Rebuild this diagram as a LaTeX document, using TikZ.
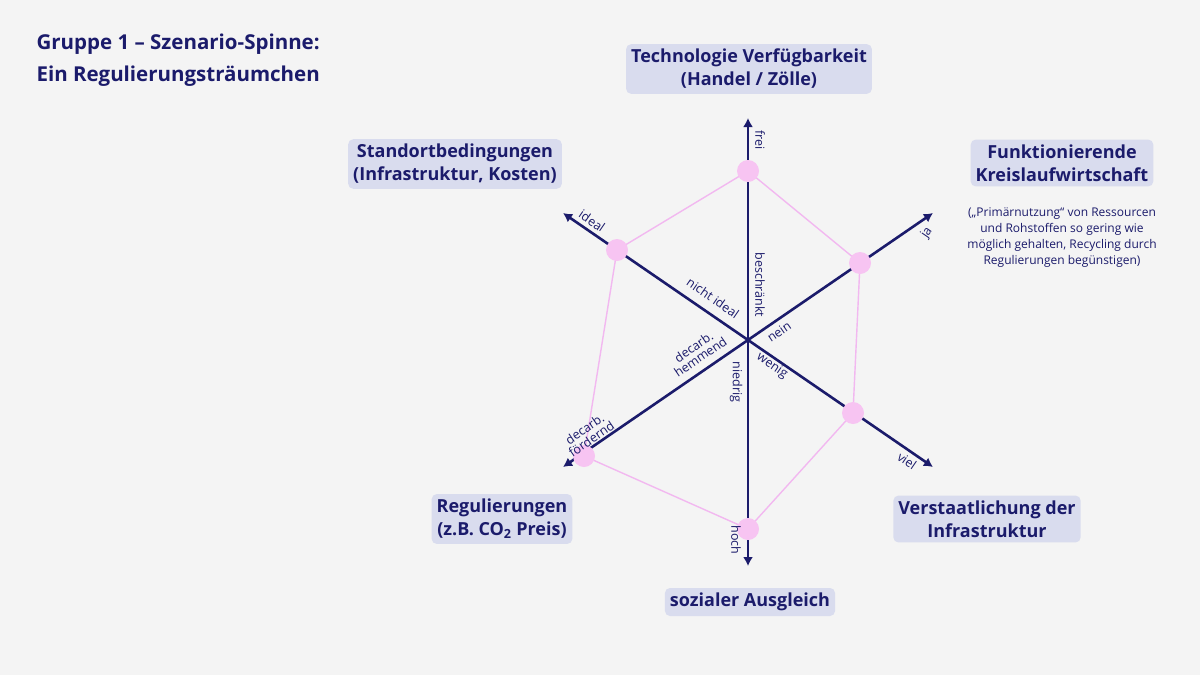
\documentclass[tikz,border=0pt]{standalone}
\usepackage{fontspec}
\setmainfont{Open Sans}
\usetikzlibrary{arrows.meta}
\definecolor{navy}{HTML}{1B1B6B}
\definecolor{boxbg}{HTML}{D9DCEE}
\definecolor{pinkl}{HTML}{F2B8F0}
\definecolor{dotc}{HTML}{F7C4F2}
\definecolor{pagebg}{HTML}{F4F4F4}
\begin{document}
\begin{tikzpicture}[x=1pt,y=-1pt,
  box/.style={fill=boxbg,rounded corners=5pt,text=navy,font=\fontsize{18}{23}\selectfont\bfseries,align=center,inner sep=5pt},
  axis/.style={navy,line width=2.6pt,-{Latex[length=9pt,width=10pt]}},
  lbl/.style={text=navy,font=\fontsize{12.5}{13}\selectfont,inner sep=1pt,align=center},
  web/.style={pinkl,line width=1.4pt},
  dot/.style={circle,fill=dotc,minimum size=22pt,inner sep=0pt}]
\fill[pagebg] (0,0) rectangle (1200,675);
\useasboundingbox (0,0) rectangle (1200,675);
\node[anchor=west,text=navy,font=\fontsize{20.5}{32}\selectfont\bfseries,align=left] (title) at (33,60) {Gruppe 1 -- Szenario-Spinne:\\Ein Regulierungsträumchen};
\coordinate (c) at (748,340);
\coordinate (aT) at (748,118);
\coordinate (aB) at (748,566);
\coordinate (aUL) at (563,213);
\coordinate (aUR) at (933,213);
\coordinate (aLR) at (933,467);
\coordinate (aLL) at (563,467);
\foreach \a in {aT,aB,aUL,aUR,aLR,aLL} \draw[axis] (c) -- (\a);
\coordinate (qT) at (748,171);
\coordinate (qUR) at (860,263);
\coordinate (qLR) at (853,413);
\coordinate (qB) at (748,529);
\coordinate (qLL) at (584,456);
\coordinate (qUL) at (617,250);
\draw[web] (qT) -- (qUR) -- (qLR) -- (qB) -- (qLL) -- (qUL) -- cycle;
\node[dot] (pT) at (qT) {};
\node[dot] (pUR) at (qUR) {};
\node[dot] (pLR) at (qLR) {};
\node[dot] (pB) at (qB) {};
\node[dot] (pLL) at (qLL) {};
\node[dot] (pUL) at (qUL) {};
\node[lbl,rotate=-90] (l1) at (760,140) {frei};
\node[lbl,rotate=-90] (l2) at (760,285) {beschränkt};
\node[lbl,rotate=-90] (l3) at (736,382) {niedrig};
\node[lbl,rotate=-90] (l4) at (736,540) {hoch};
\node[lbl,rotate=-34.5] (l5) at (592,221) {ideal};
\node[lbl,rotate=-34.5] (l6) at (713,298) {nicht ideal};
\node[lbl,rotate=-34.5] (l7) at (772,366) {wenig};
\node[lbl,rotate=-34.5] (l8) at (907,461) {viel};
\node[lbl,rotate=55.5] (l9) at (927,233) {ja};
\node[lbl,rotate=34.5] (l10) at (779,332) {nein};
\node[lbl,rotate=34.5,font=\fontsize{12.5}{12}\selectfont] (l11) at (697,352) {decarb.\\hemmend};
\node[lbl,rotate=34.5,font=\fontsize{12.5}{12}\selectfont] (l12) at (588,434) {decarb.\\fördernd};
\node[box] (bT) at (749,69) {Technologie Verfügbarkeit\\(Handel / Zölle)};
\node[box] (bUL) at (455,164) {Standortbedingungen\\(Infrastruktur, Kosten)};
\node[box] (bUR) at (1062,163) {Funktionierende\\Kreislaufwirtschaft};
\node[text=navy,font=\fontsize{12}{16}\selectfont,align=center] (sUR) at (1062,238) {(„Primärnutzung“ von Ressourcen\\und Rohstoffen so gering wie\\möglich gehalten, Recycling durch\\Regulierungen begünstigen)};
\node[box] (bLL) at (502,519) {Regulierungen\\(z.B. CO\textsubscript{2} Preis)};
\node[box] (bLR) at (987,519) {Verstaatlichung der\\Infrastruktur};
\node[box] (bB) at (750,602) {sozialer Ausgleich};
\end{tikzpicture}
\end{document}
